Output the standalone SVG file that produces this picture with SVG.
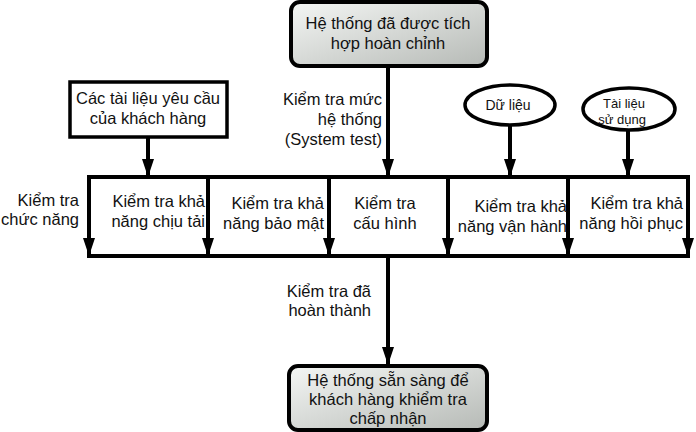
<svg xmlns="http://www.w3.org/2000/svg" width="696" height="432" viewBox="0 0 696 432">
<defs>
<style>
text{font-family:"Liberation Sans",Arial,sans-serif;font-size:16.5px;fill:#111}
.s{font-size:13px}
.d{font-size:14px}
.r{text-anchor:end}
.m{text-anchor:middle}
.box{fill:#fff;stroke:#000;stroke-width:3.5}
.rb{fill:url(#g);stroke:#000;stroke-width:4}
.el{fill:#fff;stroke:#000;stroke-width:3.5}
.ln{stroke:#000;stroke-width:4;fill:none}
.ar{stroke:#000;stroke-width:4;fill:none;marker-end:url(#a)}
</style>
<linearGradient id="g" x1="0" y1="0" x2="1" y2="1">
<stop offset="0" stop-color="#f4f6f4"/>
<stop offset="1" stop-color="#b6bab6"/>
</linearGradient>
<marker id="a" viewBox="0 0 18 12" refX="17" refY="6" markerWidth="18" markerHeight="12" markerUnits="userSpaceOnUse" orient="auto">
<path d="M0,0 L18,6 L0,12 z" fill="#000"/>
</marker>
</defs>
<g id="connectors">
<line class="ln" x1="87" y1="177" x2="690" y2="177"/>
<line class="ln" x1="87" y1="256" x2="690" y2="256"/>
<line class="ar" x1="148" y1="137" x2="148" y2="176"/>
<line class="ar" x1="388" y1="66" x2="388" y2="176"/>
<line class="ar" x1="510" y1="125" x2="510" y2="176"/>
<line class="ar" x1="628" y1="130" x2="628" y2="176"/>
<line class="ar" x1="89" y1="177" x2="89" y2="255"/>
<line class="ar" x1="208" y1="177" x2="208" y2="255"/>
<line class="ar" x1="329" y1="177" x2="329" y2="255"/>
<line class="ar" x1="448" y1="177" x2="448" y2="255"/>
<line class="ar" x1="568" y1="177" x2="568" y2="255"/>
<line class="ar" x1="688" y1="177" x2="688" y2="255"/>
<line class="ar" x1="388" y1="256" x2="388" y2="364"/>
</g>
<g id="top">
<rect class="rb" x="291" y="2" width="196" height="64" rx="9"/>
<text class="m" x="388" y="29">Hệ thống đã được tích</text>
<text class="m" x="388" y="49">hợp hoàn chỉnh</text>
</g>
<g id="customer">
<rect class="box" x="70" y="82" width="157" height="55"/>
<text class="m" x="148" y="104">Các tài liệu yêu cầu</text>
<text class="m" x="148" y="124">của khách hàng</text>
</g>
<g id="systemtest">
<text class="r" x="382" y="105">Kiểm tra mức</text>
<text class="r" x="382" y="125">hệ thống</text>
<text class="r" x="382" y="145">(System test)</text>
</g>
<g id="data">
<ellipse class="el" cx="510" cy="105" rx="45" ry="20"/>
<text class="m d" x="508" y="110">Dữ liệu</text>
</g>
<g id="docs">
<ellipse class="el" cx="629" cy="109" rx="46" ry="21"/>
<text class="m s" x="624" y="108">Tài liệu</text>
<text class="m s" x="622" y="124">sử dụng</text>
</g>
<g id="functional">
<text class="r" x="79" y="206">Kiểm tra</text>
<text class="r" x="79" y="225">chức năng</text>
</g>
<g id="load">
<text class="r" x="205" y="207">Kiểm tra khả</text>
<text class="r" x="205" y="227">năng chịu tải</text>
</g>
<g id="security">
<text class="r" x="324" y="209">Kiểm tra khả</text>
<text class="r" x="324" y="229">năng bảo mật</text>
</g>
<g id="config">
<text class="m" x="385" y="209">Kiểm tra</text>
<text class="m" x="385" y="229">cấu hình</text>
</g>
<g id="operation">
<text class="r" x="567" y="212">Kiểm tra khả</text>
<text class="r" x="567" y="232">năng vận hành</text>
</g>
<g id="recovery">
<text class="r" x="683" y="209">Kiểm tra khả</text>
<text class="r" x="683" y="229">năng hồi phục</text>
</g>
<g id="done">
<text class="r" x="371" y="297">Kiểm tra đã</text>
<text class="r" x="371" y="316">hoàn thành</text>
</g>
<g id="ready">
<rect class="rb" x="289" y="366" width="198" height="64" rx="9"/>
<text class="m" x="388" y="386">Hệ thống sẵn sàng để</text>
<text class="m" x="388" y="405">khách hàng khiểm tra</text>
<text class="m" x="388" y="424">chấp nhận</text>
</g>
</svg>
